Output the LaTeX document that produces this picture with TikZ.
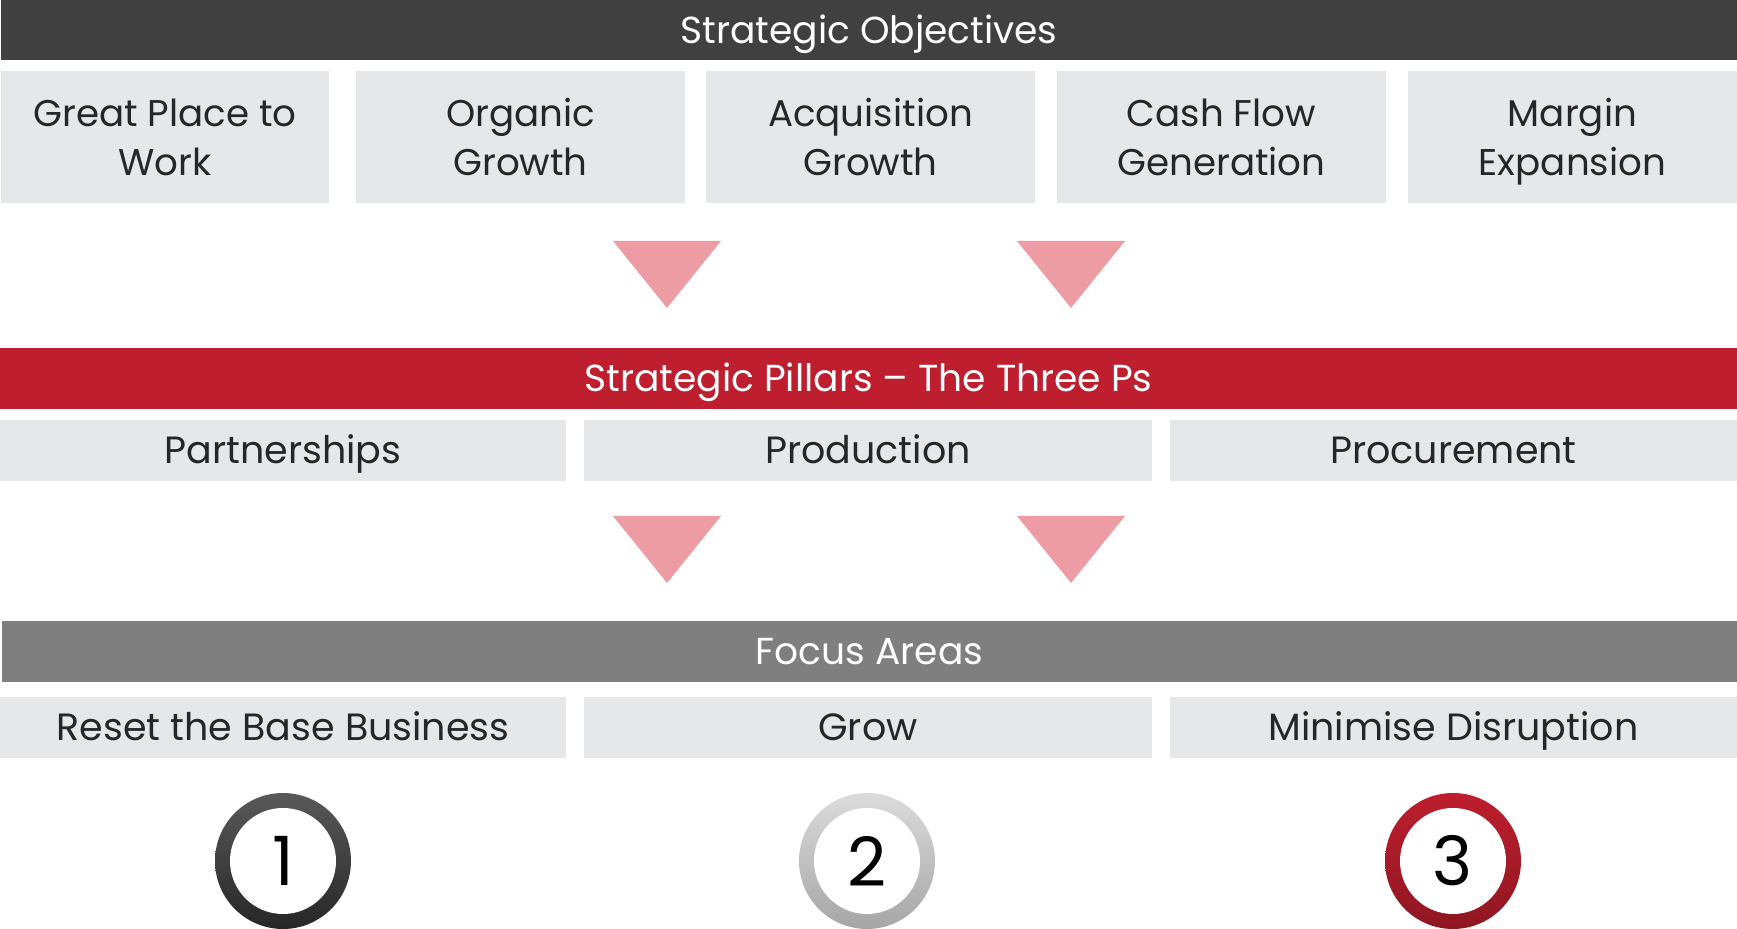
\documentclass[tikz,border=0pt]{standalone}
\usepackage{fontspec}
\setmainfont{Poppins}
\definecolor{darkbar}{HTML}{404040}
\definecolor{boxgray}{HTML}{E6E7E9}
\definecolor{pillred}{HTML}{BE1E2D}
\definecolor{tripink}{HTML}{EE9CA4}
\definecolor{focusgray}{HTML}{7F7F7F}
\definecolor{txt}{HTML}{262626}
\newcommand{\lnstrut}{\vphantom{Ágp}}
\tikzset{
  bar/.style={fill=#1, draw=none, inner sep=0pt, minimum height=30.5pt, text=white, font=\fontsize{18.8}{22}\selectfont, text height=13.2pt, text depth=0pt},
  obj/.style={fill=boxgray, draw=none, inner sep=0pt, minimum width=164pt, minimum height=66pt, text=txt, align=center, font=\fontsize{18.6}{24.4}\selectfont},
  cell/.style={fill=boxgray, draw=none, inner sep=0pt, minimum height=30.5pt, text=txt, font=\fontsize{19}{22}\selectfont, text height=13.3pt, text depth=0pt},
  tri/.style={fill=tripink, draw=none},
  inner/.style={circle, fill=white, draw=none, minimum size=53pt, inner sep=0pt, text=black, font=\fontsize{34}{34}\selectfont},
}
\begin{document}
\begin{tikzpicture}[x=0.5pt,y=-0.5pt]
\useasboundingbox (0,0) rectangle (1737,929);
% top bar
\node[bar=darkbar, minimum width=868pt] (so) at (869,30) {Strategic Objectives};
% objectives
\fill[boxgray] (1,71) rectangle (329,203);
\node[obj, fill=none] (o1) at (165,139) {\lnstrut Great Place to\\\lnstrut Work};
\fill[boxgray] (356,71) rectangle (685,203);
\node[obj, fill=none] (o2) at (520.5,139) {\lnstrut Organic\\\lnstrut Growth};
\fill[boxgray] (706,71) rectangle (1035,203);
\node[obj, fill=none] (o3) at (870.5,139) {\lnstrut Acquisition\\\lnstrut Growth};
\fill[boxgray] (1057,71) rectangle (1386,203);
\node[obj, fill=none] (o4) at (1221.5,139) {\lnstrut Cash Flow\\\lnstrut Generation};
\fill[boxgray] (1408,71) rectangle (1737,203);
\node[obj, fill=none] (o5) at (1572.5,139) {\lnstrut Margin\\\lnstrut Expansion};
% triangles row 1
\fill[tri] (613,241) -- (721,241) -- (667,308) -- cycle;
\fill[tri] (1017,241) -- (1125,241) -- (1071,308) -- cycle;
% pillars bar
\node[bar=pillred, minimum width=868.5pt] (sp) at (868.5,378.5) {Strategic Pillars – The Three Ps};
\node[cell, minimum width=283pt] (p1) at (283,450.5) {Partnerships};
\node[cell, minimum width=284pt] (p2) at (868,450.5) {Production};
\node[cell, minimum width=283.5pt] (p3) at (1453.5,450.5) {Procurement};
% triangles row 2
\fill[tri] (613,516) -- (721,516) -- (667,583) -- cycle;
\fill[tri] (1017,516) -- (1125,516) -- (1071,583) -- cycle;
% focus areas
\node[bar=focusgray, minimum width=867.5pt] (fa) at (869.5,651.5) {Focus Areas};
\node[cell, minimum width=283pt] (f1) at (283,727.5) {Reset the Base Business};
\node[cell, minimum width=284pt] (f2) at (868,727.5) {Grow};
\node[cell, minimum width=283.5pt] (f3) at (1453.5,727.5) {Minimise Disruption};
% circles
\node[circle, draw=none, minimum size=68pt, inner sep=0pt, top color={black!65}, bottom color={black!85}] (c1) at (283,861) {};
\node[inner] (n1) at (c1) {1};
\node[circle, draw=none, minimum size=68pt, inner sep=0pt, top color={black!14}, bottom color={black!35}] (c2) at (867,861) {};
\node[inner] (n2) at (c2) {2};
\node[circle, draw=none, minimum size=68pt, inner sep=0pt, top color={pillred}, bottom color={pillred!75!black}] (c3) at (1453,861) {};
\node[inner] (n3) at (c3) {3};
\end{tikzpicture}
\end{document}
